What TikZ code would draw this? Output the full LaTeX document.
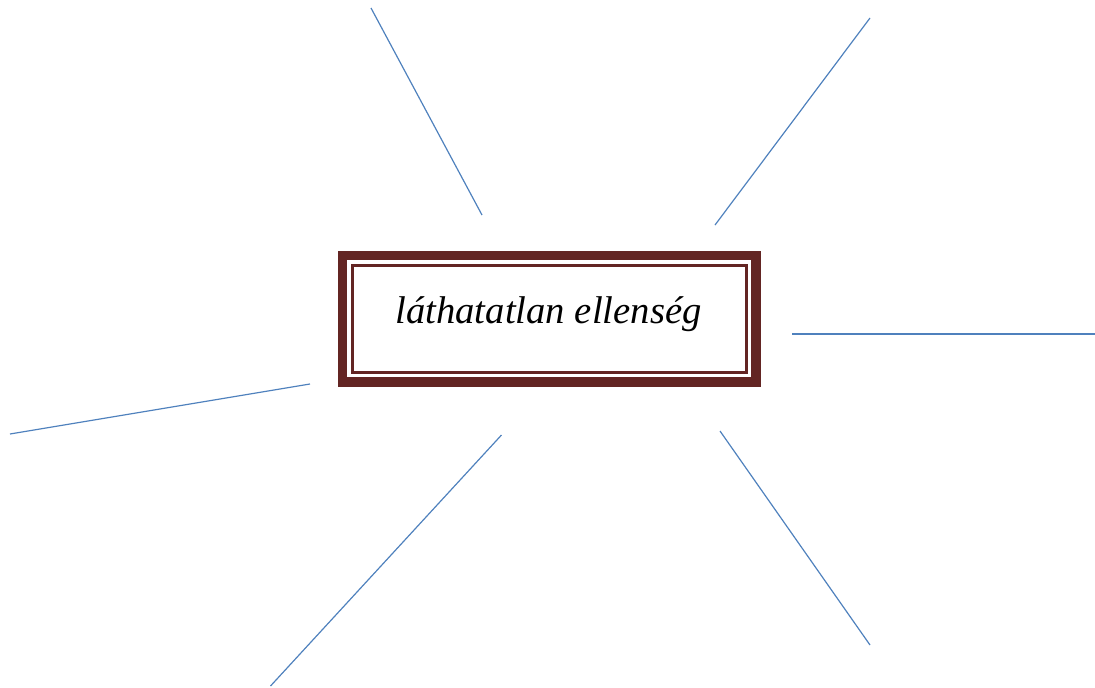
\documentclass[tikz,border=0pt]{standalone}
\usepackage{fontspec}
\setmainfont{Liberation Serif}
\definecolor{framebrown}{RGB}{99,37,35}
\definecolor{rayblue}{RGB}{79,129,189}
\tikzset{ray/.style={draw=rayblue, line width=0.9pt}}
\begin{document}
\begin{tikzpicture}[x=0.75pt,y=-0.75pt]
        \useasboundingbox (0,0) rectangle (1095,687);

        \node[draw=framebrown, line width=7pt, minimum width=310pt, minimum height=95pt, inner sep=0pt, outer sep=0pt] (frame) at (549.3,318.7) {};
        \draw[framebrown, line width=2.25pt] ([shift={(7.4pt,-7.4pt)}]frame.north west) rectangle ([shift={(-7.4pt,7.4pt)}]frame.south east);
        \node[anchor=base, font=\itshape\fontsize{29pt}{34pt}\selectfont, inner sep=0pt] (title) at (548.5,323.3) {láthatatlan ellenség};

        \coordinate (upleftA) at (371,8);
        \coordinate (upleftB) at (482,215);
        \coordinate (uprightA) at (870,18);
        \coordinate (uprightB) at (715,225);
        \coordinate (rightA) at (792,334);
        \coordinate (rightB) at (1095,334);
        \coordinate (leftA) at (10,434);
        \coordinate (leftB) at (310,384);
        \coordinate (downleftA) at (501.5,435);
        \coordinate (downleftB) at (270.5,686);
        \coordinate (downrightA) at (720,431);
        \coordinate (downrightB) at (870,645);

        \draw[ray] (upleftA) -- (upleftB);
        \draw[ray] (uprightA) -- (uprightB);
        \draw[ray] (rightA) -- (rightB);
        \draw[ray] (leftA) -- (leftB);
        \draw[ray] (downleftA) -- (downleftB);
        \draw[ray] (downrightA) -- (downrightB);
    \end{tikzpicture}
\end{document}
